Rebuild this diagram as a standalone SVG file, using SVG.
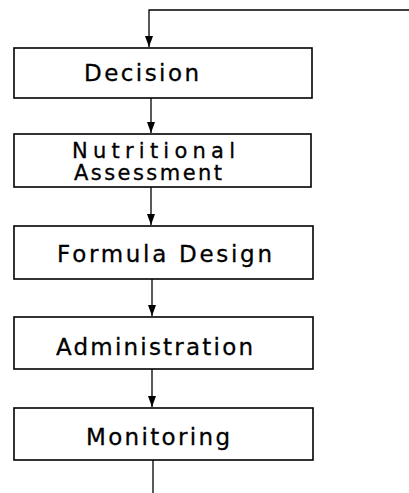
<svg xmlns="http://www.w3.org/2000/svg" width="409" height="493" viewBox="0 0 409 493">
<style>
.box{fill:#fff;stroke:#000;stroke-width:1.6}
.lbl{font-family:"DejaVu Sans","Liberation Sans",sans-serif;font-size:23px;fill:#000;stroke:#000;stroke-width:0.3}
.sm{font-size:21px}
.ln{stroke:#000;stroke-width:1.3;fill:none}
</style>
<defs>
<marker id="ah" markerWidth="11" markerHeight="8" refX="11" refY="4" orient="auto" markerUnits="userSpaceOnUse" viewBox="0 0 11 8">
<path d="M0,0 L11,4 L0,8 Z" fill="#000"/>
</marker>
</defs>
<rect width="409" height="493" fill="#fff"/>
<g id="connectors">
<path class="ln" d="M409,10 H149 V47" marker-end="url(#ah)"/>
<path class="ln" d="M151,98 V133" marker-end="url(#ah)"/>
<path class="ln" d="M151,187 V225" marker-end="url(#ah)"/>
<path class="ln" d="M152,279 V316" marker-end="url(#ah)"/>
<path class="ln" d="M152,369 V407" marker-end="url(#ah)"/>
<path class="ln" d="M153,460 V493"/>
</g>
<g id="decision">
<rect class="box" x="14" y="48" width="298" height="50"/>
<text class="lbl" x="84" y="81" textLength="115" lengthAdjust="spacing">Decision</text>
</g>
<g id="nutritional-assessment">
<rect class="box" x="14" y="134" width="297" height="53"/>
<text class="lbl sm" x="72" y="158" textLength="163" lengthAdjust="spacing">Nutritional</text>
<text class="lbl sm" x="74" y="180" textLength="148" lengthAdjust="spacing">Assessment</text>
</g>
<g id="formula-design">
<rect class="box" x="14" y="226" width="299" height="53"/>
<text class="lbl" x="57" y="262" textLength="215" lengthAdjust="spacing">Formula Design</text>
</g>
<g id="administration">
<rect class="box" x="14" y="317" width="299" height="52"/>
<text class="lbl" x="56" y="355" textLength="197" lengthAdjust="spacing">Administration</text>
</g>
<g id="monitoring">
<rect class="box" x="14" y="408" width="299" height="52"/>
<text class="lbl" x="86" y="445" textLength="144" lengthAdjust="spacing">Monitoring</text>
</g>
</svg>
